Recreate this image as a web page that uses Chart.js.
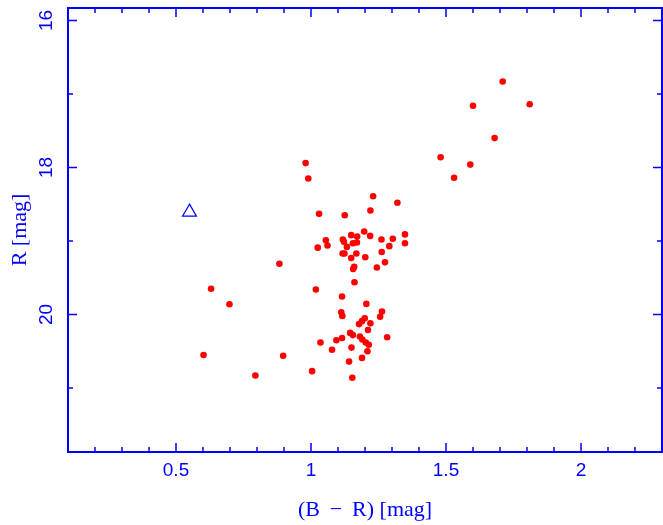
<!DOCTYPE html>
<html>
<head>
<meta charset="utf-8">
<script src="https://cdn.jsdelivr.net/npm/chart.js@4/dist/chart.umd.min.js"></script>
<style>
  html, body { margin: 0; padding: 0; background: #fff; }
  #wrap { width: 663px; height: 525px; }
</style>
</head>
<body>
<div id="wrap"><canvas id="cmd" width="663" height="525"></canvas></div>
<script>
// Colour (B - R) and magnitude R for the red points
const colourBR = [
    1.71, 1.60, 1.81, 1.68, 1.48, 1.59, 1.53,
    0.98, 0.99, 1.23, 1.32, 1.22, 1.03, 1.125,
    1.197, 1.149, 1.171, 1.219, 1.348, 1.303, 1.261, 1.055, 1.118, 1.122, 1.155, 1.17,
    1.133, 1.348, 1.29, 1.061, 1.025, 1.262, 1.117, 1.124, 1.168, 1.149, 1.201, 1.274,
    1.244, 1.16, 1.156, 1.161, 0.883,
    0.63, 1.018, 0.698, 1.115, 1.205, 1.112, 1.116, 1.263, 1.256, 1.199, 1.189, 1.178,
    1.22, 1.211, 1.145, 1.155, 1.115, 1.094, 1.035, 1.181, 1.19, 1.203, 1.214, 1.282,
    1.078, 1.15, 1.209, 0.602, 0.897, 1.189, 1.141, 1.004, 0.794, 1.153
];
const magR = [
    16.83, 17.16, 17.14, 17.60, 17.86, 17.96, 18.14,
    17.94, 18.15, 18.39, 18.48, 18.585, 18.63, 18.65,
    18.87, 18.92, 18.94, 18.93, 18.91, 18.97, 18.98, 18.99, 18.98, 19.01, 19.03, 19.02,
    19.08, 19.03, 19.07, 19.06, 19.09, 19.15, 19.17, 19.17, 19.17, 19.23, 19.22, 19.29,
    19.36, 19.35, 19.38, 19.56, 19.31,
    19.65, 19.66, 19.86, 19.755, 19.855, 19.97, 20.02, 19.96, 20.03, 20.05, 20.09, 20.13,
    20.12, 20.21, 20.25, 20.28, 20.32, 20.35, 20.38, 20.30, 20.34, 20.38, 20.41, 20.31,
    20.48, 20.45, 20.50, 20.55, 20.56, 20.59, 20.64, 20.77, 20.83, 20.86
];
// The single open triangle
const triBR = [0.55];
const triR = [18.607];

// Axes
const xRange = [0.1, 2.3];
const yRange = [15.83, 21.87];
const xMajorTicks = [0.5, 1, 1.5, 2];
const xTickLabels = ['0.5', '1', '1.5', '2'];
const xMinorTicks = [0.1, 0.2, 0.3, 0.4, 0.6, 0.7, 0.8, 0.9, 1.1, 1.2, 1.3, 1.4,
                     1.6, 1.7, 1.8, 1.9, 2.1, 2.2];
const yMajorTicks = [16, 18, 20];
const yTickLabels = ['16', '18', '20'];
const yMinorTicks = [17, 19, 21];
const xTitle = '(B \u2009\u2212\u2009 R) [mag]';
const yTitle = 'R [mag]';

const blue = '#0000ff';

// Frame, inward ticks on all four sides and the text, drawn with the chart's scales
const framePlugin = {
    id: 'frame',
    afterDraw(chart) {
        const ctx = chart.ctx;
        const area = chart.chartArea;
        const xs = chart.scales.x;
        const ys = chart.scales.y;
        ctx.save();
        ctx.strokeStyle = blue;
        ctx.fillStyle = blue;

        ctx.lineWidth = 1.5;
        const xTick = (v, len) => {
            const px = xs.getPixelForValue(v);
            ctx.beginPath();
            ctx.moveTo(px, area.bottom); ctx.lineTo(px, area.bottom - len);
            ctx.moveTo(px, area.top); ctx.lineTo(px, area.top + len);
            ctx.stroke();
        };
        const yTick = (v, len) => {
            const py = ys.getPixelForValue(v);
            ctx.beginPath();
            ctx.moveTo(area.left, py); ctx.lineTo(area.left + len, py);
            ctx.moveTo(area.right, py); ctx.lineTo(area.right - len, py);
            ctx.stroke();
        };
        xMajorTicks.forEach(v => xTick(v, 9));
        xMinorTicks.forEach(v => xTick(v, 5));
        yMajorTicks.forEach(v => yTick(v, 9));
        yMinorTicks.forEach(v => yTick(v, 5));

        ctx.lineWidth = 2;
        ctx.strokeRect(area.left, area.top, area.right - area.left, area.bottom - area.top);

        // tick labels
        ctx.font = '19px "Liberation Sans", Arial, sans-serif';
        ctx.textAlign = 'center';
        ctx.textBaseline = 'middle';
        xMajorTicks.forEach((v, i) => {
            ctx.fillText(xTickLabels[i], xs.getPixelForValue(v), area.bottom + 19);
        });
        yMajorTicks.forEach((v, i) => {
            ctx.save();
            ctx.translate(area.left - 21, ys.getPixelForValue(v));
            ctx.rotate(-Math.PI / 2);
            ctx.fillText(yTickLabels[i], 0, 0);
            ctx.restore();
        });

        // axis titles
        ctx.font = '22px "Liberation Serif", "Times New Roman", serif';
        ctx.fillText(xTitle, (area.left + area.right) / 2, area.bottom + 58);
        ctx.save();
        ctx.translate(area.left - 48, (area.top + area.bottom) / 2);
        ctx.rotate(-Math.PI / 2);
        ctx.fillText(yTitle, 0, 0);
        ctx.restore();
        ctx.restore();
    }
};

new Chart(document.getElementById('cmd'), {
    type: 'scatter',
    data: {
        datasets: [
            {
                label: 'red',
                data: colourBR.map((x, i) => ({ x: x, y: magR[i] })),
                backgroundColor: '#ff0000',
                borderWidth: 0,
                pointRadius: 3.3,
                pointHoverRadius: 3.3
            },
            {
                label: 'triangle',
                data: triBR.map((x, i) => ({ x: x, y: triR[i] })),
                pointStyle: 'triangle',
                backgroundColor: 'rgba(0,0,0,0)',
                borderColor: blue,
                borderWidth: 1.2,
                pointRadius: 8,
                pointHoverRadius: 8
            }
        ]
    },
    options: {
        responsive: false,
        animation: false,
        events: [],
        layout: { autoPadding: false, padding: { left: 68, top: 8, right: 1, bottom: 73 } },
        plugins: {
            legend: { display: false },
            tooltip: { enabled: false }
        },
        scales: {
            x: { type: 'linear', display: false, min: xRange[0], max: xRange[1] },
            y: { type: 'linear', display: false, reverse: true, min: yRange[0], max: yRange[1] }
        }
    },
    plugins: [framePlugin]
});
</script>
</body>
</html>
